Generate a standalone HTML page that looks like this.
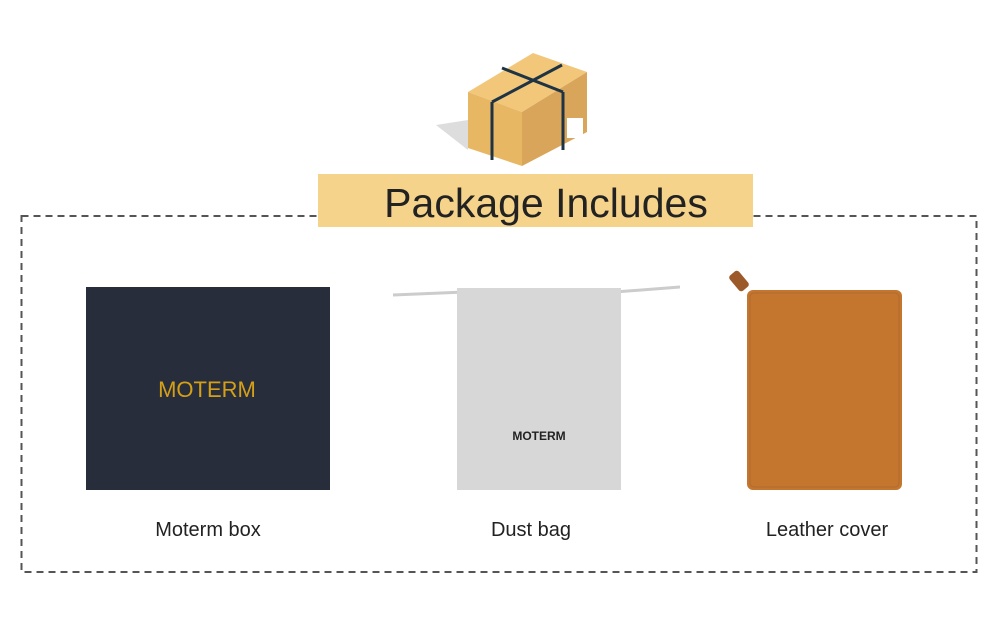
<!DOCTYPE html>
<html><head><meta charset="utf-8"><style>
body{margin:0;width:1000px;height:636px;background:#fff;position:relative;overflow:hidden;font-family:"Liberation Sans",sans-serif}
.a{position:absolute}
.lbl{position:absolute;font-size:20px;color:#222;text-align:center;width:240px}
</style></head><body>
<svg class="a" style="left:0;top:0" width="1000" height="636">
<rect x="21.5" y="216" width="955" height="356" fill="none" stroke="#555" stroke-width="2" stroke-dasharray="7 5"/>
<polygon points="468,120 436,125 468,150" fill="#ddd"/>
<polygon points="468,92 533,53 587,72 522,112" fill="#f2c77a"/>
<polygon points="468,92 522,112 522,166 468,148" fill="#e8b764"/>
<polygon points="522,112 587,72 587,132 522,166" fill="#d9a55a"/>
<rect x="567" y="118" width="16" height="20" fill="#fff"/>
<g stroke="#1e3344" stroke-width="3" fill="none">
<line x1="502" y1="68" x2="563" y2="92"/>
<line x1="562" y1="65" x2="492" y2="102"/>
<polyline points="492,102 492,160"/>
<polyline points="563,92 563,150"/>
</g>
<rect x="318" y="174" width="435" height="53" fill="#f5d38a"/>
<text x="546" y="217" font-family="Liberation Sans" font-size="41" fill="#222" text-anchor="middle">Package Includes</text>
<rect x="86" y="287" width="244" height="203" fill="#282d3b"/>
<text x="207" y="397" font-family="Liberation Sans" font-size="22" fill="#d4a017" text-anchor="middle">MOTERM</text>
<line x1="393" y1="295" x2="465" y2="292" stroke="#ccc" stroke-width="3"/>
<line x1="615" y1="292" x2="680" y2="287" stroke="#ccc" stroke-width="3"/>
<rect x="457" y="288" width="164" height="202" fill="#d7d7d7"/>
<text x="539" y="440" font-family="Liberation Sans" font-size="12" font-weight="bold" fill="#222" text-anchor="middle">MOTERM</text>
<rect x="733" y="271" width="12" height="20" rx="3" fill="#9c5a2a" transform="rotate(-40 739 281)"/>
<rect x="747" y="290" width="155" height="200" rx="6" fill="#c4762f"/>
<rect x="750" y="293" width="149" height="194" rx="4" fill="none" stroke="#b06a2e" stroke-width="1"/>
</svg>
<div class="lbl" style="left:88px;top:519px">Moterm box</div>
<div class="lbl" style="left:411px;top:519px">Dust bag</div>
<div class="lbl" style="left:707px;top:519px">Leather cover</div>
</body></html>
